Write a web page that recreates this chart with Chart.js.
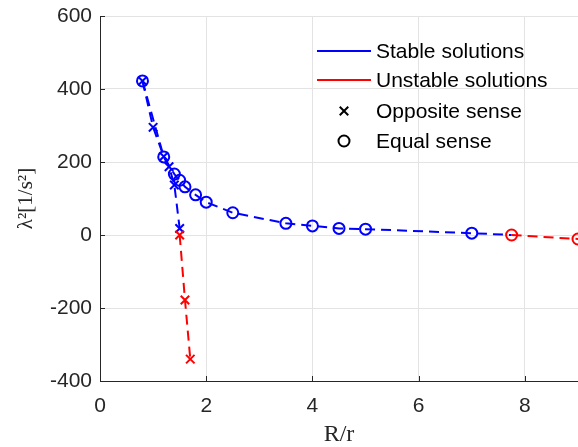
<!DOCTYPE html>
<html>
<head>
<meta charset="utf-8">
<script src="https://cdn.jsdelivr.net/npm/chart.js@4"></script>
<style>
  html, body { margin: 0; padding: 0; background: #fff; }
  canvas { display: block; }
</style>
</head>
<body>
<canvas id="chart" width="578" height="447"></canvas>
<script>
// ── DATA ───────────────────────────────────────────────
// equal sense (circles)
const eqStableX   = [0.8, 1.2, 1.4, 1.5, 1.6, 1.8, 2, 2.5, 3.5, 4, 4.5, 5, 7, 7.75];
const eqStableY   = [422, 214, 167, 150, 132, 110, 90, 61, 32, 25, 18, 16, 5, 0];
const eqUnstableX = [7.75, 9];
const eqUnstableY = [0, -11];
// opposite sense (crosses)
const opStableX   = [0.8, 1.0, 1.2, 1.3, 1.4, 1.5];
const opStableY   = [422, 295, 215, 187, 137, 18];
const opUnstableX = [1.5, 1.6, 1.7];
const opUnstableY = [0, -178, -340];

const xTicks = [0, 2, 4, 6, 8];
const yTicks = [-400, -200, 0, 200, 400, 600];
const legendLabels = ['Stable solutions', 'Unstable solutions', 'Opposite sense', 'Equal sense'];

// ── STYLE ──────────────────────────────────────────────
const BLUE = '#0000ff';
const RED  = '#ff0000';
const AXIS = '#262626';
const GRID = '#e3e3e3';
const SANS = "'Liberation Sans', Arial, sans-serif";
const SERIF = "'Liberation Serif', 'DejaVu Serif', serif";
const DASH = [10, 6];

const pts = (xs, ys) => xs.map((x, i) => ({ x, y: ys[i] }));

function series(xs, ys, color, style, extra) {
  return Object.assign({
    data: pts(xs, ys),
    borderColor: color,
    borderWidth: 2,
    borderDash: DASH,
    pointStyle: style,
    pointRadius: style === 'circle' ? 5.5 : 6,
    pointBorderWidth: 2,
    pointBorderColor: color,
    pointBackgroundColor: 'rgba(0,0,0,0)',
    showLine: true,
    fill: false,
    tension: 0,
  }, extra || {});
}

// hide the last stable circle (it is drawn red by the unstable set)
const eqStableRadius = eqStableX.map((_, i) => i === eqStableX.length - 1 ? 0 : 5.5);

// ── INWARD TICK MARKS (matlab style) ───────────────────
const innerTicks = {
  id: 'innerTicks',
  afterDraw(chart) {
    const { ctx, chartArea: a, scales: { x, y } } = chart;
    ctx.save();
    ctx.strokeStyle = AXIS;
    ctx.lineWidth = 1;
    ctx.beginPath();
    xTicks.forEach(v => {
      const px = Math.round(x.getPixelForValue(v)) + 0.5;
      ctx.moveTo(px, a.bottom); ctx.lineTo(px, a.bottom - 5);
    });
    yTicks.forEach(v => {
      const py = Math.round(y.getPixelForValue(v)) + 0.5;
      ctx.moveTo(a.left, py); ctx.lineTo(a.left + 5, py);
    });
    ctx.stroke();
    ctx.restore();
  }
};

// ── LEGEND (inside axes, no box) ───────────────────────
const insideLegend = {
  id: 'insideLegend',
  afterDatasetsDraw(chart) {
    const ctx = chart.ctx;
    const rows = [51, 80, 111, 141];
    const symX = 344, txtX = 376;
    ctx.save();
    ctx.lineWidth = 2;
    // lines
    [BLUE, RED].forEach((c, i) => {
      ctx.strokeStyle = c;
      ctx.beginPath();
      ctx.moveTo(317, rows[i]);
      ctx.lineTo(371, rows[i]);
      ctx.stroke();
    });
    // markers
    ctx.strokeStyle = '#000';
    Chart.helpers.drawPoint(ctx, { pointStyle: 'crossRot', radius: 6, borderWidth: 2 }, symX, rows[2]);
    ctx.beginPath();
    ctx.arc(symX, rows[3], 5.5, 0, Math.PI * 2);
    ctx.stroke();
    // labels
    ctx.fillStyle = '#000';
    ctx.font = '21px ' + SANS;
    ctx.textBaseline = 'middle';
    legendLabels.forEach((t, i) => ctx.fillText(t, txtX, rows[i] + 1.5));
    ctx.restore();
  }
};

// ── CHART ──────────────────────────────────────────────
new Chart(document.getElementById('chart').getContext('2d'), {
  type: 'line',
  data: {
    datasets: [
      series(eqUnstableX, eqUnstableY, RED, 'circle'),
      series(opUnstableX, opUnstableY, RED, 'crossRot'),
      series(eqStableX, eqStableY, BLUE, 'circle', { pointRadius: eqStableRadius }),
      series(opStableX, opStableY, BLUE, 'crossRot'),
    ]
  },
  options: {
    responsive: false,
    animation: false,
    layout: { autoPadding: false, padding: { left: 0, right: 0, top: 16, bottom: 0 } },
    plugins: { legend: { display: false }, tooltip: { enabled: false } },
    scales: {
      x: {
        type: 'linear',
        min: 0, max: 9,
        afterBuildTicks: s => { s.ticks = xTicks.map(v => ({ value: v })); },
        afterFit: s => { s.height = 66; s.paddingLeft = 0; s.paddingRight = 0; },
        grid: { color: GRID, drawTicks: false },
        border: { color: AXIS, width: 1 },
        ticks: { color: AXIS, padding: 13, includeBounds: false, font: { family: SANS, size: 21 } },
        title: {
          display: true, text: 'R/r', color: AXIS, padding: 0,
          font: { family: SERIF, size: 24, lineHeight: 1 }
        }
      },
      y: {
        type: 'linear',
        min: -400, max: 600,
        afterBuildTicks: s => { s.ticks = yTicks.map(v => ({ value: v })); },
        afterFit: s => { s.width = 100; s.paddingTop = 0; s.paddingBottom = 0; },
        grid: { color: GRID, drawTicks: false },
        border: { color: AXIS, width: 1 },
        ticks: { color: AXIS, padding: 8, font: { family: SANS, size: 21 } },
        title: {
          display: true, text: 'λ²[1/s²]', color: AXIS, padding: { top: 14, bottom: 0 },
          font: { family: SERIF, size: 21 }
        }
      }
    }
  },
  plugins: [innerTicks, insideLegend]
});
</script>
</body>
</html>
